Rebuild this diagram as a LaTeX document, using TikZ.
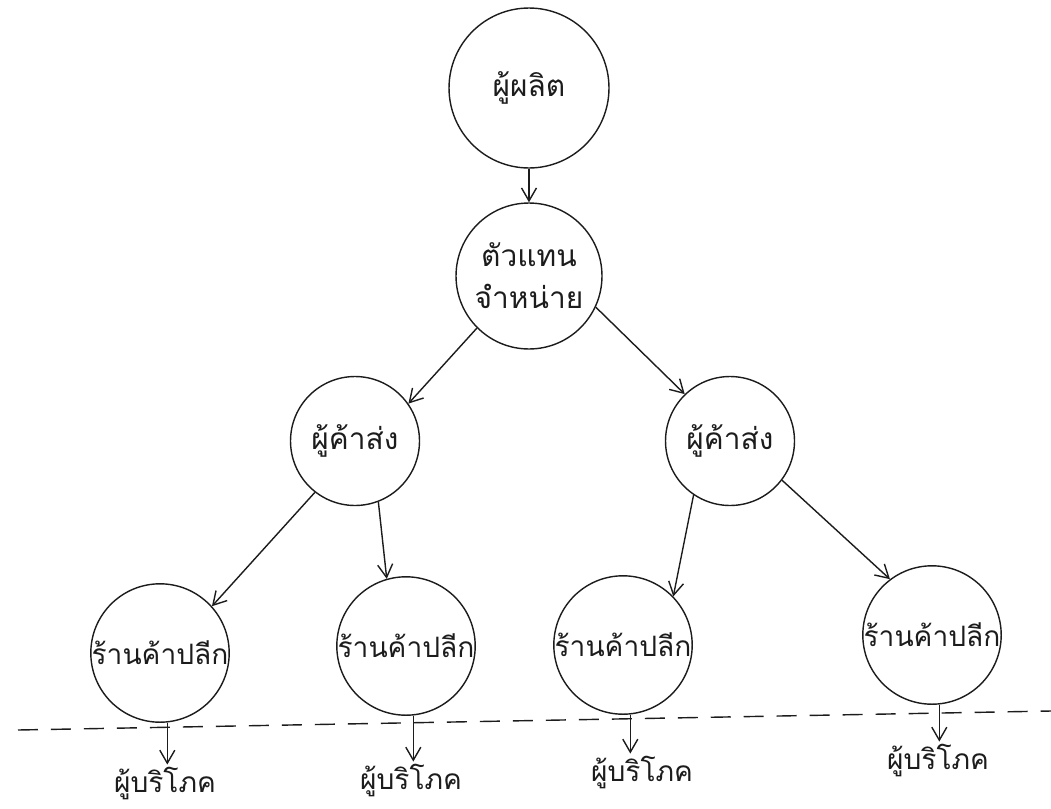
\documentclass[tikz,border=0pt]{standalone}
\usepackage{fontspec}
\newfontfamily\thaifont[Script=Thai]{Loma}
\usetikzlibrary{
    arrows.meta,
    positioning,
    calc
}
\definecolor{ink}{HTML}{1C1C1C}
\tikzset{
    % Circle for each stage of the channel
    stage/.style={
        circle,
        minimum size=#1,
        inner sep=0pt,
        align=center,
        font=\thaifont\fontsize{17}{24}\selectfont,
        text=ink,
        draw=ink,
        line width=0.8pt
    },
    stage/.default=2.6cm,
    % Label below the divider
    enduser/.style={
        font=\thaifont\fontsize{16}{22}\selectfont,
        text=ink,
        inner sep=1pt
    },
    % Arrow styles
    flow/.style={
        -{Straight Barb[length=2.6mm, width=3mm]},
        line width=0.8pt,
        color=ink
    },
    divider/.style={
        dash pattern=on 4mm off 2.6mm,
        line width=0.8pt,
        color=ink
    }
}

\begin{document}
\begin{tikzpicture}[x=0.02cm, y=-0.02cm]
        \useasboundingbox (0,0) rectangle (1051,808);

        % Producer and distributor
        \node[stage=3.2cm] (maker) at (529, 88) {ผู้ผลิต};
        \node[stage=2.92cm] (agent) at (529, 276) {ตัวแทน\\จำหน่าย};

        % Wholesalers
        \node[stage=2.58cm] (whole1) at (355, 441) {ผู้ค้าส่ง};
        \node[stage=2.58cm] (whole2) at (730, 441) {ผู้ค้าส่ง};

        % Retail shops
        \node[stage, font=\thaifont\fontsize{16}{22}\selectfont] (shop1) at (160, 653) {ร้านค้าปลีก};
        \node[stage, font=\thaifont\fontsize{16}{22}\selectfont] (shop2) at (406, 646) {ร้านค้าปลีก};
        \node[stage, font=\thaifont\fontsize{16}{22}\selectfont] (shop3) at (623, 645) {ร้านค้าปลีก};
        \node[stage, font=\thaifont\fontsize{16}{22}\selectfont] (shop4) at (932, 635) {ร้านค้าปลีก};

        % Consumers
        \node[enduser] (buyer1) at (165, 783) {ผู้บริโภค};
        \node[enduser] (buyer2) at (411, 780) {ผู้บริโภค};
        \node[enduser] (buyer3) at (642, 772) {ผู้บริโภค};
        \node[enduser] (buyer4) at (938, 760) {ผู้บริโภค};

        % Divider
        \coordinate (lineL) at (18, 730);
        \coordinate (lineR) at (1051, 711);
        \draw[divider] (lineL) -- (lineR);

        % Connections
        \draw[flow] (maker) -- (agent);
        \draw[flow] (agent.-135) -- (whole1.35);
        \draw[flow] (agent.-25) -- (whole2.134);
        \draw[flow] (whole1.-128) -- (shop1.42);
        \draw[flow] (whole1.-69) -- (shop2.106);
        \draw[flow] (whole2.-124) -- (shop3.44);
        \draw[flow] (whole2.-37) -- (shop4.127);
        \foreach \i in {1,...,4}
            \draw[flow] (shop\i.-84) -- (shop\i.-84 |- buyer\i.north);

    \end{tikzpicture}
\end{document}
